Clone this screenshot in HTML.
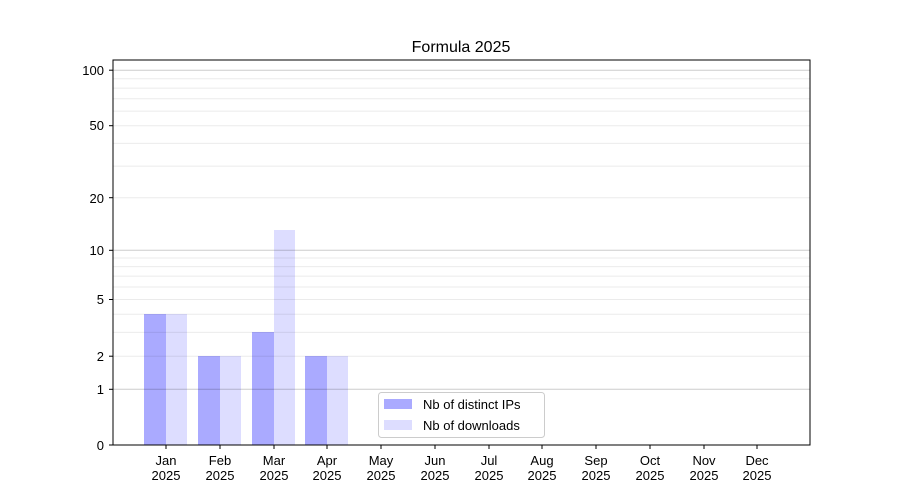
<!DOCTYPE html>
<html><head><meta charset="utf-8"><style>body{margin:0;background:#fff}svg{display:block}text{font-family:"Liberation Sans","DejaVu Sans",sans-serif;font-size:13px;fill:#000}</style></head><body>
<svg width="900" height="500" xmlns="http://www.w3.org/2000/svg">
<rect width="900" height="500" fill="#fff"/>
<text x="461" y="52" text-anchor="middle" style="font-size:16px">Formula 2025</text>
<g id="bars">
<rect x="144" y="314" width="22" height="131" fill="#aaaaff"/><rect x="166" y="314" width="21" height="131" fill="#ddddff"/>
<rect x="198" y="356" width="22" height="89" fill="#aaaaff"/><rect x="220" y="356" width="21" height="89" fill="#ddddff"/>
<rect x="252" y="332" width="22" height="113" fill="#aaaaff"/><rect x="274" y="230" width="21" height="215" fill="#ddddff"/>
<rect x="305" y="356" width="22" height="89" fill="#aaaaff"/><rect x="327" y="356" width="21" height="89" fill="#ddddff"/>
</g>
<g stroke="#000" stroke-opacity="0.08" stroke-width="1">
<line x1="113" x2="810" y1="356.2" y2="356.2"/><line x1="113" x2="810" y1="332.4" y2="332.4"/><line x1="113" x2="810" y1="314.3" y2="314.3"/><line x1="113" x2="810" y1="299.5" y2="299.5"/><line x1="113" x2="810" y1="287" y2="287"/><line x1="113" x2="810" y1="276.1" y2="276.1"/><line x1="113" x2="810" y1="266.6" y2="266.6"/><line x1="113" x2="810" y1="258" y2="258"/><line x1="113" x2="810" y1="197.7" y2="197.7"/><line x1="113" x2="810" y1="166.1" y2="166.1"/><line x1="113" x2="810" y1="143.4" y2="143.4"/><line x1="113" x2="810" y1="125.7" y2="125.7"/><line x1="113" x2="810" y1="111.1" y2="111.1"/><line x1="113" x2="810" y1="98.8" y2="98.8"/><line x1="113" x2="810" y1="88.1" y2="88.1"/><line x1="113" x2="810" y1="78.7" y2="78.7"/>
</g>
<g stroke="#000" stroke-opacity="0.2" stroke-width="1">
<line x1="113" x2="810" y1="389.3" y2="389.3"/><line x1="113" x2="810" y1="250.3" y2="250.3"/><line x1="113" x2="810" y1="70.2" y2="70.2"/>
</g>
<rect x="113" y="60" width="697" height="385" fill="none" stroke="#000" stroke-width="1"/>
<g stroke="#000">
<line x1="109" x2="113" y1="445" y2="445"/><line x1="109" x2="113" y1="389.3" y2="389.3"/><line x1="109" x2="113" y1="356.2" y2="356.2"/><line x1="109" x2="113" y1="299.5" y2="299.5"/><line x1="109" x2="113" y1="250.3" y2="250.3"/><line x1="109" x2="113" y1="197.7" y2="197.7"/><line x1="109" x2="113" y1="125.7" y2="125.7"/><line x1="109" x2="113" y1="70.2" y2="70.2"/>
</g>
<g text-anchor="end">
<text x="104" y="450">0</text><text x="104" y="394">1</text><text x="104" y="361">2</text><text x="104" y="304">5</text><text x="104" y="255">10</text><text x="104" y="203">20</text><text x="104" y="130">50</text><text x="104" y="75">100</text>
</g>
<g stroke="#000">
<line x1="166" x2="166" y1="445" y2="449"/><line x1="220" x2="220" y1="445" y2="449"/><line x1="274" x2="274" y1="445" y2="449"/><line x1="327" x2="327" y1="445" y2="449"/><line x1="381" x2="381" y1="445" y2="449"/><line x1="435" x2="435" y1="445" y2="449"/><line x1="489" x2="489" y1="445" y2="449"/><line x1="542" x2="542" y1="445" y2="449"/><line x1="596" x2="596" y1="445" y2="449"/><line x1="650" x2="650" y1="445" y2="449"/><line x1="704" x2="704" y1="445" y2="449"/><line x1="757" x2="757" y1="445" y2="449"/>
</g>
<g text-anchor="middle">
<text x="166" y="465">Jan</text><text x="166" y="480">2025</text>
<text x="220" y="465">Feb</text><text x="220" y="480">2025</text>
<text x="274" y="465">Mar</text><text x="274" y="480">2025</text>
<text x="327" y="465">Apr</text><text x="327" y="480">2025</text>
<text x="381" y="465">May</text><text x="381" y="480">2025</text>
<text x="435" y="465">Jun</text><text x="435" y="480">2025</text>
<text x="489" y="465">Jul</text><text x="489" y="480">2025</text>
<text x="542" y="465">Aug</text><text x="542" y="480">2025</text>
<text x="596" y="465">Sep</text><text x="596" y="480">2025</text>
<text x="650" y="465">Oct</text><text x="650" y="480">2025</text>
<text x="704" y="465">Nov</text><text x="704" y="480">2025</text>
<text x="757" y="465">Dec</text><text x="757" y="480">2025</text>
</g>
<rect x="378.5" y="392.5" width="166" height="45" rx="3" fill="#fff" fill-opacity="0.8" stroke="#ccc"/>
<rect x="384" y="399" width="28" height="10" fill="#aaaaff"/>
<text x="423" y="409">Nb of distinct IPs</text>
<rect x="384" y="420" width="28" height="10" fill="#ddddff"/>
<text x="423" y="430">Nb of downloads</text>
</svg>
</body></html>
